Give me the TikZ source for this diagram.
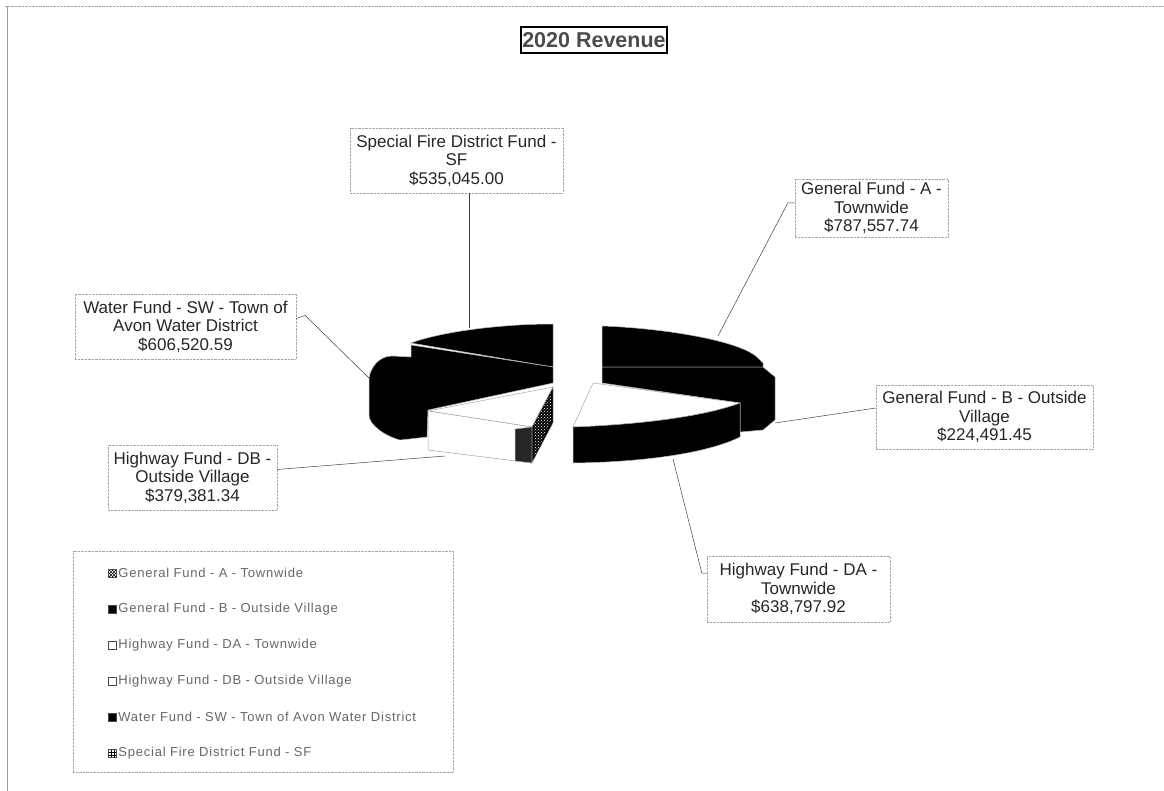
\documentclass[tikz,border=0pt]{standalone}
\usepackage{fontspec}
\setmainfont{Liberation Sans}
\newfontfamily\legendfont[LetterSpace=6]{Liberation Sans}
\usetikzlibrary{positioning,patterns}
\tikzset{
  lbl/.style={draw=gray!70, densely dotted, text=black!85, align=center, inner sep=0pt,
    font=\fontsize{17}{18.5}\selectfont},
  lead/.style={draw=black!75, line width=.5pt},
  slice/.style={fill=black, draw=gray!55, line width=.5pt},
  whiteslice/.style={fill=white, draw=gray!70, line width=.5pt},
  keybox/.style={minimum size=8, inner sep=0pt, draw=black!70},
  keytext/.style={text=black!60, inner sep=1pt, font=\legendfont\fontsize{13}{15}\selectfont}
}
\begin{document}
\begin{tikzpicture}[x=1pt, y=-1pt]
      \useasboundingbox (0,0) rectangle (1164,791);
      %%frame
      \draw[gray!70, densely dotted] (5,6) to (1164,6);
      \draw[gray!80] (7,6) to (7,791);
      \node[draw=black, line width=2pt, inner sep=1.5pt, minimum height=26, text=black!70,
        font=\bfseries\fontsize{21.5}{24}\selectfont] (title) at (594,40) {2020 Revenue};

      %%pie, left part
      \draw[slice] (411,343) .. controls (440,332) and (500,324) .. (553,324)
        to (553,367) to cycle;
      \draw[slice] (411,345) to (553,367) to (553,383) to (428,410) to (427,437) to (400,440)
        .. controls (385,436) and (369,425) .. (369,415) to (369,378)
        .. controls (371,366) and (380,356) .. (392,356) to (411,357) to cycle;
      %%Highway DB
      \draw[whiteslice] (428,411) to (553,387) to (532,427) to cycle;
      \draw[whiteslice] (428,411) to (532,427) to (532,463) to (428,450) to cycle;
      \draw[slice, fill=black!85] (515,429) to (532,427) to (532,463) to (515,461) to cycle;
      \draw[slice] (532,427) to (553,387) to (553,423) to (532,463) to cycle;
      \fill[pattern=crosshatch dots, pattern color=white] (534,425) to (551,393) to (551,421) to (534,458) to cycle;

      %%pie, right part
      \draw[slice] (602,326) .. controls (660,328) and (740,340) .. (758,358)
        to (763,363) to (763,367) to (602,367) to cycle;
      \draw[slice] (602,367) to (763,367) to (775,377) to (775,420) to (763,430)
        to (740,432) to (740,403) to (602,383) to cycle;
      %%Highway DA
      \draw[whiteslice] (593,383) to (740,403) .. controls (700,418) and (630,425) .. (573,427) to cycle;
      \draw[slice] (573,427) .. controls (630,425) and (700,418) .. (740,403) to (740,437)
        .. controls (710,452) and (650,462) .. (573,463) to cycle;

      %%points on the pie
      \coordinate (sfpt) at (469,328);
      \coordinate (gapt) at (718,336);
      \coordinate (wfpt) at (369,378);
      \coordinate (gbpt) at (775,423);
      \coordinate (dbpt) at (445,456);
      \coordinate (dapt) at (673,459);

      %%labels
      \node[lbl, minimum width=213, minimum height=65] (sf) at (456.5,160.5)
        {Special Fire District Fund -\\SF\\\$535,045.00};
      \node[lbl, minimum width=153, minimum height=58] (ga) at (871.5,208)
        {General Fund - A -\\Townwide\\\$787,557.74};
      \node[lbl, minimum width=221, minimum height=65] (wf) at (185.5,326.5)
        {Water Fund - SW - Town of\\Avon Water District\\\$606,520.59};
      \node[lbl, minimum width=217, minimum height=64] (gb) at (984.5,417)
        {General Fund - B - Outside\\Village\\\$224,491.45};
      \node[lbl, minimum width=169, minimum height=65] (db) at (192.5,477.5)
        {Highway Fund - DB -\\Outside Village\\\$379,381.34};
      \node[lbl, minimum width=183, minimum height=66] (da) at (798.5,589)
        {Highway Fund - DA -\\Townwide\\\$638,797.92};

      %%leaders
      \draw[lead] (sfpt |- sf.south) to (sfpt);
      \draw[lead] ([yshift=5pt]ga.west) to ++(-7,0) to (gapt);
      \draw[lead] ([yshift=8pt]wf.east) to ++(9,-3) to (wfpt);
      \draw[lead] ([yshift=9pt]gb.west) to (gbpt);
      \draw[lead] ([yshift=8pt]db.east) to (dbpt);
      \draw[lead] ([yshift=16pt]da.west) to ++(-5,0) to (dapt);

      %%legend
      \node[draw=gray!70, densely dotted, minimum width=380, minimum height=221, inner sep=0pt]
        (legend) at (263,661.5) {};
      \node[keybox, pattern=crosshatch, pattern color=black] (k1) at (112,573) {};
        \node[keytext, right=1pt of k1] (t1) {General Fund - A - Townwide};
      \node[keybox, fill=black] (k2) at (112,609) {};
        \node[keytext, right=1pt of k2] (t2) {General Fund - B - Outside Village};
      \node[keybox, fill=white] (k3) at (112,645) {};
        \node[keytext, right=1pt of k3] (t3) {Highway Fund - DA - Townwide};
      \node[keybox, fill=white] (k4) at (112,681) {};
        \node[keytext, right=1pt of k4] (t4) {Highway Fund - DB - Outside Village};
      \node[keybox, fill=black] (k5) at (112,717) {};
        \node[keytext, right=1pt of k5] (t5) {Water Fund - SW - Town of Avon Water District};
      \node[keybox, pattern=grid, pattern color=black] (k6) at (112,753) {};
        \node[keytext, right=1pt of k6] (t6) {Special Fire District Fund - SF};
\end{tikzpicture}
\end{document}
